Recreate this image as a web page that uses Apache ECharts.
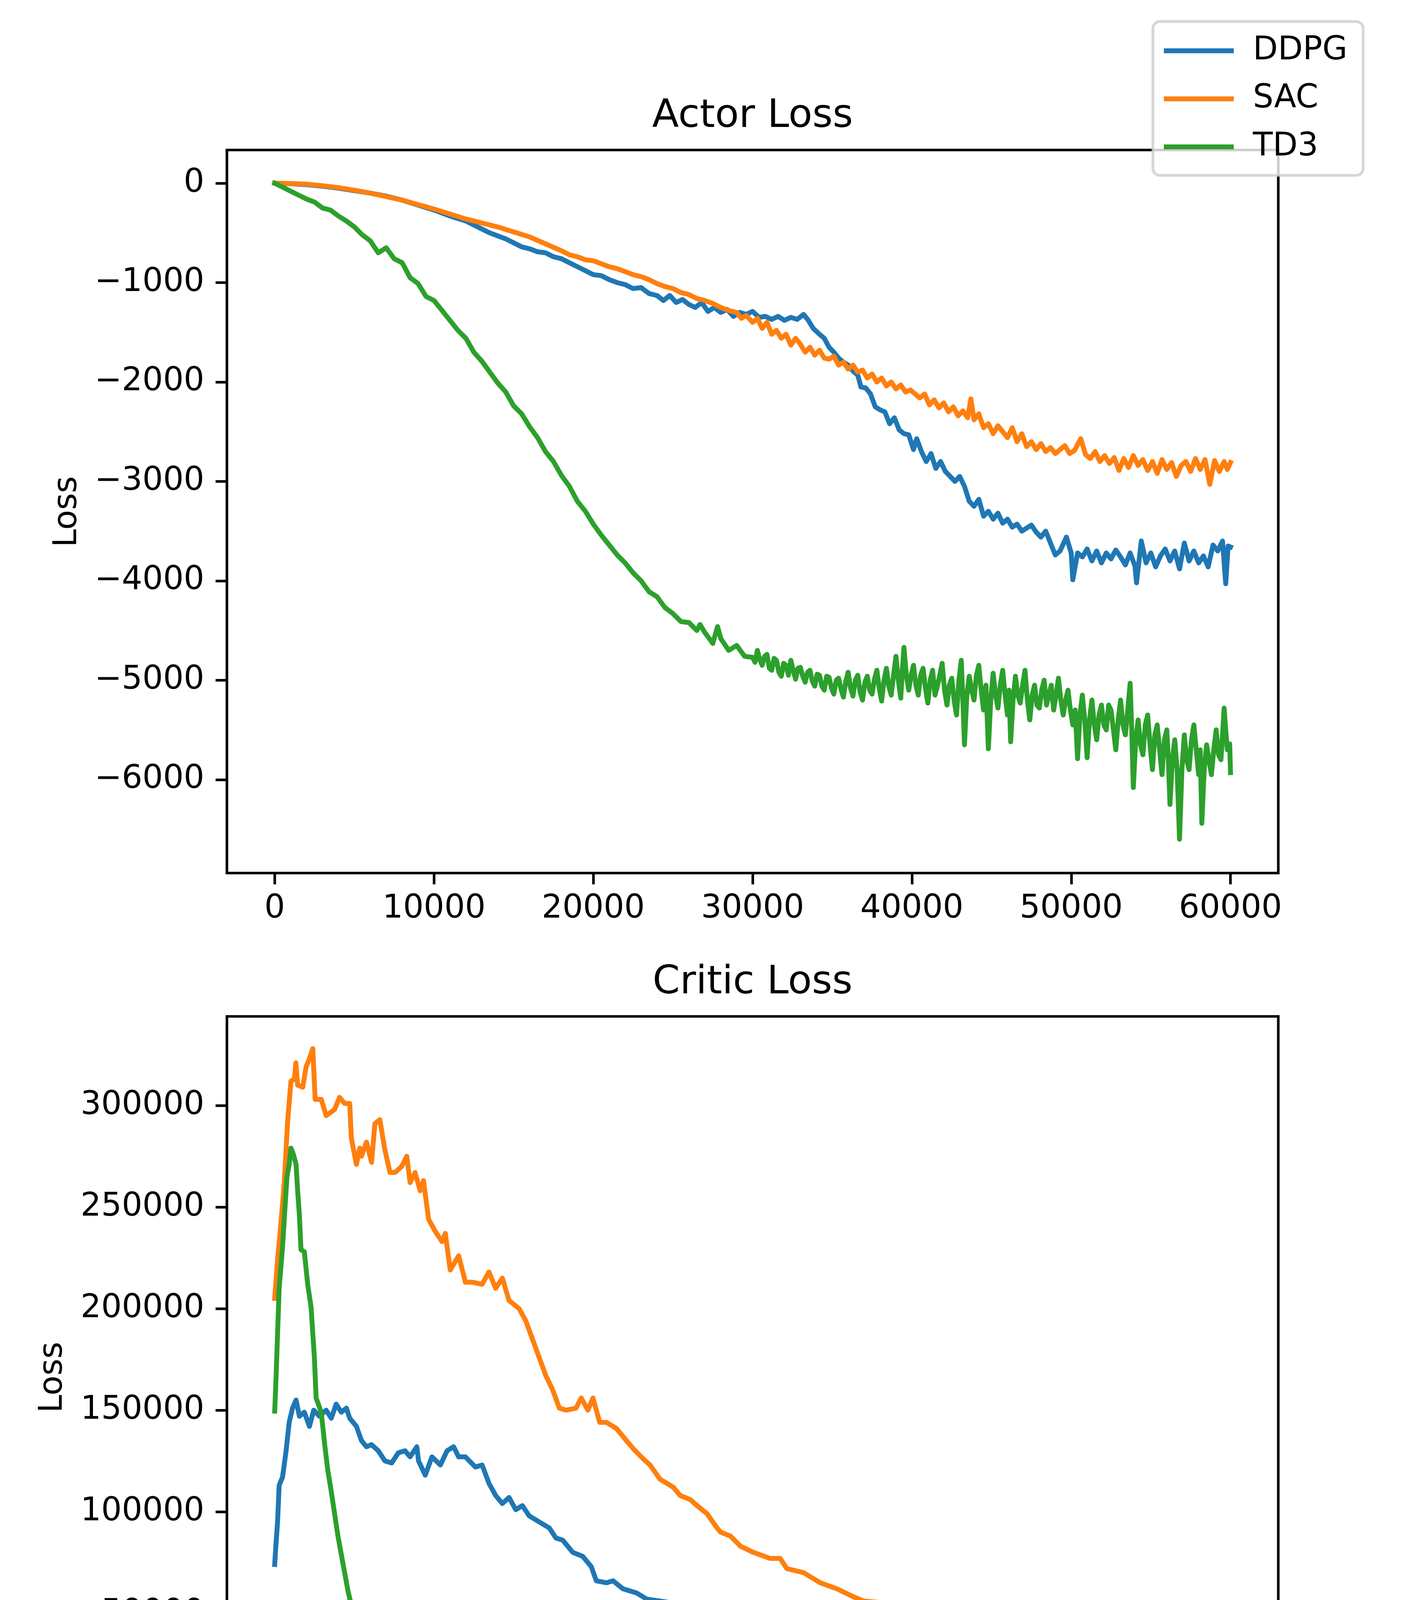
<!DOCTYPE html>
<html><head><meta charset="utf-8">
<script src="https://cdn.jsdelivr.net/npm/echarts@6/dist/echarts.min.js"></script>
<style>html,body{margin:0;padding:0;background:#fff;overflow:hidden}#c{width:3600px;height:4800px}</style>
</head><body><div id="c"></div>
<script>
// ---------------- data ----------------
const seriesNames = ['DDPG', 'SAC', 'TD3'];
const colors = ['#1f77b4', '#ff7f0e', '#2ca02c'];
const xTicks = [0, 10000, 20000, 30000, 40000, 50000, 60000];
const actorTicks = [-6000, -5000, -4000, -3000, -2000, -1000, 0];
const criticTicks = [0, 50000, 100000, 150000, 200000, 250000, 300000];

const ddpgActor = [[0,0],[1000,-5],[2000,-15],[3000,-30],[4000,-50],[5000,-75],[6000,-100],[7000,-130],[8000,-170],[9000,-220],[10000,-270],[11000,-330],[12000,-380],[12500,-420],[13000,-460],[13500,-500],[14000,-530],[14500,-560],[15000,-600],[15500,-640],[16000,-660],[16500,-690],[17000,-700],[17500,-740],[18000,-760],[18500,-800],[19000,-840],[19500,-880],[20000,-920],[20500,-930],[21000,-970],[21500,-1000],[22000,-1020],[22500,-1060],[23000,-1050],[23500,-1110],[24000,-1130],[24400,-1180],[24800,-1130],[25200,-1200],[25600,-1170],[26000,-1220],[26400,-1250],[26800,-1200],[27200,-1290],[27600,-1250],[28000,-1300],[28400,-1270],[28800,-1340],[29200,-1300],[29600,-1320],[30000,-1290],[30400,-1350],[30800,-1340],[31200,-1370],[31600,-1340],[32000,-1380],[32400,-1350],[32800,-1370],[33200,-1320],[33500,-1380],[33800,-1460],[34200,-1520],[34500,-1560],[34800,-1650],[35100,-1700],[35400,-1760],[35700,-1800],[36000,-1830],[36300,-1890],[36600,-1930],[36800,-2050],[37100,-2060],[37400,-2120],[37700,-2250],[38000,-2280],[38300,-2300],[38600,-2420],[38900,-2360],[39200,-2480],[39500,-2520],[39800,-2530],[40100,-2680],[40300,-2570],[40600,-2700],[40900,-2800],[41200,-2720],[41500,-2870],[41800,-2800],[42100,-2900],[42400,-2950],[42700,-3000],[43000,-2950],[43300,-3050],[43600,-3200],[43900,-3250],[44200,-3180],[44500,-3350],[44800,-3300],[45100,-3380],[45400,-3320],[45700,-3420],[46000,-3380],[46300,-3460],[46600,-3430],[46900,-3500],[47200,-3470],[47500,-3440],[47800,-3510],[48100,-3560],[48400,-3500],[48700,-3620],[49000,-3740],[49300,-3700],[49700,-3560],[50000,-3720],[50100,-3990],[50400,-3720],[50700,-3760],[51000,-3680],[51300,-3800],[51600,-3700],[51900,-3820],[52200,-3720],[52500,-3780],[52800,-3690],[53100,-3760],[53400,-3840],[53700,-3720],[54000,-3850],[54100,-4020],[54400,-3600],[54700,-3820],[55000,-3720],[55300,-3860],[55600,-3750],[55900,-3680],[56200,-3800],[56500,-3700],[56800,-3880],[57100,-3620],[57400,-3800],[57700,-3700],[58000,-3820],[58300,-3750],[58600,-3860],[58900,-3640],[59200,-3700],[59500,-3600],[59700,-4030],[59850,-3650],[60000,-3660]];

const sacActor = [[0,0],[1000,-3],[2000,-10],[3000,-25],[4000,-45],[5000,-70],[6000,-100],[7000,-135],[8000,-170],[9000,-215],[10000,-260],[11000,-310],[12000,-360],[13000,-400],[14000,-440],[15000,-490],[16000,-540],[17000,-610],[18000,-680],[18500,-720],[19000,-740],[19500,-770],[20000,-780],[20500,-810],[21000,-840],[21500,-860],[22000,-890],[22500,-920],[23000,-940],[23500,-970],[24000,-1010],[24500,-1040],[25000,-1060],[25500,-1100],[26000,-1120],[26500,-1160],[27000,-1180],[27500,-1210],[28000,-1250],[28500,-1280],[29000,-1300],[29300,-1360],[29600,-1330],[30000,-1400],[30300,-1360],[30600,-1460],[30900,-1400],[31200,-1520],[31500,-1480],[31800,-1560],[32100,-1520],[32400,-1630],[32700,-1560],[33000,-1620],[33300,-1700],[33600,-1650],[33900,-1730],[34200,-1680],[34500,-1760],[34800,-1770],[35100,-1740],[35400,-1830],[35700,-1800],[36000,-1870],[36300,-1830],[36600,-1900],[36900,-1880],[37200,-1960],[37500,-1920],[37800,-2000],[38100,-1960],[38400,-2040],[38700,-2000],[39000,-2070],[39300,-2030],[39600,-2100],[39900,-2080],[40200,-2120],[40500,-2160],[40800,-2120],[41100,-2230],[41400,-2180],[41700,-2260],[42000,-2210],[42300,-2300],[42600,-2250],[42900,-2340],[43200,-2290],[43500,-2360],[43700,-2170],[43900,-2380],[44200,-2320],[44500,-2460],[44800,-2420],[45100,-2520],[45400,-2440],[45700,-2500],[46000,-2560],[46300,-2460],[46600,-2600],[46900,-2520],[47200,-2650],[47500,-2600],[47800,-2680],[48100,-2620],[48400,-2700],[48700,-2660],[49000,-2720],[49300,-2680],[49600,-2640],[49900,-2720],[50200,-2690],[50600,-2570],[50900,-2730],[51200,-2770],[51500,-2700],[51800,-2800],[52100,-2740],[52400,-2820],[52700,-2760],[53000,-2890],[53300,-2770],[53600,-2860],[53900,-2740],[54200,-2840],[54500,-2780],[54800,-2890],[55100,-2800],[55400,-2920],[55700,-2780],[56000,-2880],[56300,-2810],[56600,-2950],[56900,-2840],[57200,-2800],[57500,-2900],[57800,-2770],[58100,-2880],[58400,-2780],[58700,-3030],[59000,-2790],[59300,-2900],[59600,-2800],[59800,-2880],[60000,-2810]];

const td3Actor = [[0,0],[500,-40],[1000,-80],[1500,-120],[2000,-160],[2500,-190],[3000,-250],[3500,-270],[4000,-330],[4500,-380],[5000,-440],[5500,-520],[6000,-580],[6500,-700],[7000,-650],[7500,-760],[8000,-800],[8500,-950],[9000,-1010],[9500,-1140],[10000,-1180],[10500,-1280],[11000,-1380],[11500,-1480],[12000,-1560],[12500,-1700],[13000,-1790],[13500,-1900],[14000,-2010],[14500,-2100],[15000,-2240],[15500,-2320],[16000,-2450],[16500,-2560],[17000,-2700],[17500,-2800],[18000,-2940],[18500,-3050],[19000,-3200],[19500,-3300],[20000,-3430],[20500,-3540],[21000,-3640],[21500,-3740],[22000,-3820],[22500,-3920],[23000,-4000],[23500,-4110],[24000,-4160],[24500,-4270],[25000,-4330],[25500,-4410],[26000,-4420],[26500,-4500],[26700,-4440],[27000,-4520],[27500,-4630],[27800,-4460],[28000,-4580],[28500,-4700],[29000,-4650],[29500,-4760],
[30000,-4770],[30150,-4820],[30300,-4700],[30450,-4790],[30600,-4850],[30750,-4760],[30900,-4740],[31050,-4880],[31200,-4900],[31350,-4780],[31500,-4800],[31650,-4920],[31800,-4960],[31950,-4830],[32100,-4850],[32250,-4950],[32400,-4800],[32550,-4900],[32700,-4990],[32850,-4880],[33000,-4870],[33150,-4960],[33300,-5020],[33450,-4920],[33600,-4900],[33750,-5010],[33900,-5060],[34050,-4940],[34200,-4950],[34350,-5060],[34500,-5100],[34650,-4960],[34800,-4970],[34950,-5080],[35100,-5140],[35250,-5000],[35400,-4980],[35550,-5090],[35700,-5170],[35850,-5010],[36000,-4920],[36150,-5080],[36300,-5160],[36450,-5000],[36600,-4950],[36750,-5120],[36900,-5200],[37050,-5020],[37200,-4960],[37350,-5100],[37500,-5140],[37650,-4990],[37800,-4900],[37950,-5080],[38100,-5210],[38250,-5000],[38400,-4880],[38550,-5060],[38700,-5150],[38850,-4950],[39000,-4760],[39150,-5000],[39300,-5180],[39400,-4900],[39500,-4670],[39650,-4950],[39800,-5100],[39950,-4950],[40100,-4850],[40250,-5050],[40400,-5150],[40550,-4950],[40700,-4880],[40850,-5080],[41000,-5230],[41150,-5000],[41300,-4900],[41450,-5150],[41600,-5060],[41750,-4950],[41900,-4830],[42050,-5100],[42200,-5250],[42350,-5050],[42500,-4980],[42650,-5200],[42800,-5350],[42950,-5000],[43100,-4800],[43200,-5200],[43300,-5650],[43450,-5150],[43600,-4960],[43750,-5100],[43900,-5200],[44050,-4950],[44200,-4850],[44350,-5100],[44500,-5300],[44650,-5050],[44800,-5690],[44950,-5200],[45100,-4930],[45250,-5150],[45400,-5280],[45550,-5050],[45700,-4900],[45850,-5150],[46000,-5350],[46100,-5100],[46200,-5620],[46350,-5200],[46500,-4960],[46650,-5150],[46800,-5230],[46950,-5050],[47100,-4900],[47250,-5200],[47400,-5400],[47550,-5150],[47700,-5050],[47850,-5250],[48000,-5280],[48150,-5100],[48300,-5000],[48450,-5250],[48600,-5150],[48750,-5050],[48900,-5300],[49050,-5150],[49200,-4980],[49350,-5200],[49500,-5350],[49650,-5200],[49800,-5100],[49950,-5300],[50100,-5450],[50250,-5300],[50400,-5790],[50550,-5350],[50700,-5150],[50850,-5400],[51000,-5780],[51150,-5400],[51300,-5200],[51450,-5450],[51600,-5600],[51750,-5350],[51900,-5250],[52050,-5450],[52200,-5500],[52350,-5250],[52500,-5300],[52650,-5500],[52800,-5700],[52950,-5400],[53100,-5200],[53250,-5450],[53400,-5550],[53550,-5300],[53700,-5030],[53800,-5500],[53900,-6080],[54050,-5600],[54200,-5400],[54350,-5650],[54500,-5750],[54650,-5450],[54800,-5350],[54950,-5650],[55100,-5900],[55250,-5550],[55400,-5450],[55550,-5700],[55700,-5950],[55850,-5600],[56000,-5500],[56100,-5800],[56200,-6250],[56350,-5800],[56500,-5600],[56650,-5900],[56800,-6600],[56950,-5900],[57100,-5550],[57250,-5800],[57400,-5900],[57550,-5600],[57700,-5450],[57850,-5700],[58000,-5950],[58100,-5700],[58200,-6440],[58350,-5900],[58500,-5650],[58650,-5800],[58800,-5950],[58950,-5700],[59100,-5500],[59250,-5750],[59400,-5800],[59500,-5550],[59600,-5280],[59700,-5500],[59800,-5700],[59950,-5640],[60000,-5930]];

const ddpgCritic = [[0,74000],[70,83000],[180,95000],[280,113000],[490,117000],[700,129000],[910,144000],[1120,151000],[1340,155000],[1550,147000],[1860,149000],[2180,142000],[2450,150000],[2810,147000],[3230,150000],[3550,146000],[3860,153000],[4180,149000],[4500,151000],[4710,146000],[5130,142000],[5450,135000],[5760,132000],[6080,133000],[6500,130000],[6920,125000],[7340,124000],[7760,129000],[8180,130000],[8500,127000],[8920,132000],[9030,125000],[9450,118000],[9870,127000],[10400,123000],[10820,130000],[11230,132000],[11550,127000],[11970,127000],[12600,122000],[13020,123000],[13450,114000],[13870,108000],[14290,104000],[14710,107000],[15130,101000],[15550,103000],[15970,98000],[16600,95000],[17240,92000],[17660,87000],[18080,86000],[18710,80000],[19340,78000],[19870,73000],[20190,66000],[20820,65000],[21240,66000],[21870,62000],[22720,60000],[23350,57000],[24190,56000],[25030,55000],[25660,53000],[26510,52000],[27140,50000],[27980,49000],[29030,48000],[30040,47000],[31100,45000],[32150,44000],[33200,43000],[33830,39000],[34460,35000],[35310,30000],[36360,25600],[37410,24000],[38880,24000],[40150,25600],[41630,28000],[43110,31000],[44370,36000],[46060,39000],[47540,41000],[48380,44000],[50060,45000],[51110,47000],[52370,47000],[53430,48000],[54260,45000],[55530,45000],[56580,44000],[57420,44000],[58270,41000],[58800,38000],[59220,31000],[59740,22000],[60000,19000]];

const sacCritic = [[0,205000],[180,224000],[390,242000],[600,262000],[810,292000],[1020,312000],[1230,313000],[1330,321000],[1440,310000],[1760,309000],[1970,319000],[2180,323000],[2390,328000],[2540,303000],[2920,303000],[3230,295000],[3760,298000],[4070,304000],[4390,301000],[4710,301000],[4810,284000],[5130,271000],[5340,279000],[5450,275000],[5760,282000],[6080,272000],[6290,291000],[6600,293000],[6920,278000],[7240,267000],[7550,267000],[7970,270000],[8290,275000],[8500,262000],[8810,267000],[9130,258000],[9340,263000],[9660,244000],[10080,238000],[10500,233000],[10710,237000],[11020,219000],[11550,226000],[11970,213000],[12390,213000],[13020,212000],[13450,218000],[13870,210000],[14290,215000],[14710,204000],[15340,200000],[15760,194000],[16180,185000],[16600,176000],[17020,167000],[17450,160000],[17870,151000],[18290,150000],[18920,151000],[19240,156000],[19660,150000],[19980,156000],[20400,144000],[20820,144000],[21450,141000],[22080,135000],[22510,131000],[23140,126000],[23560,123000],[24190,116000],[24610,114000],[25030,112000],[25450,108000],[26080,106000],[26510,103000],[27140,99000],[27770,92000],[27980,90000],[28610,88000],[29240,83000],[30040,80000],[31100,77000],[31730,77000],[32150,72000],[33200,70000],[34250,65000],[35310,62000],[36360,58000],[36990,56000],[38470,55000],[39520,55000],[40570,54000],[41630,53500],[42680,53000],[43740,52000],[44790,49000],[46260,49000],[47950,52000],[50060,52000],[52160,52000],[54260,51000],[56370,50500],[58690,50000],[59000,44000],[59510,37000],[59840,28000],[60000,25600]];

const td3Critic = [[0,149500],[70,163000],[280,210000],[490,230000],[640,249000],[770,265000],[910,271000],[1020,279000],[1170,276000],[1340,271000],[1440,258000],[1550,246000],[1650,229000],[1860,228000],[2070,212000],[2280,201000],[2490,176000],[2600,156000],[2920,149000],[3140,133000],[3340,120000],[3550,110000],[3760,99000],[3970,88000],[4180,79000],[4390,70000],[4600,61000],[4810,54000],[5130,43000],[5450,38000],[5870,30000],[6290,24500],[6710,21000],[7130,19000],[7550,17700],[8600,17700],[9660,20000],[10710,23000],[11340,25600],[12180,27000],[13450,28000],[14710,28000],[15970,27000],[17240,27000],[18500,26000],[19770,24500],[20610,21700],[22300,19000],[23560,16500],[24820,14300],[26510,13600],[28610,13000],[30040,13600],[34250,13000],[36360,12000],[38470,11500],[40570,10900],[44790,10400],[49000,10200],[51110,9700],[53210,8600],[56370,8200],[58690,9000],[59510,6300],[60000,4800]];

const actorData = [ddpgActor, sacActor, td3Actor];
const criticData = [ddpgCritic, sacCritic, td3Critic];

// ---------------- chart ----------------
const FONT = 'DejaVu Sans';
const LW = 6.67;
const fmt = v => (v < 0 ? '\u2212' : '') + Math.abs(v);

function xAxisDef(gi) {
  return {
    type: 'value', gridIndex: gi, min: -3000, max: 63000, position: 'bottom',
    axisLine: { show: false, onZero: false },
    splitLine: { show: false },
    axisTick: { show: true, inside: false, length: 29, customValues: xTicks, lineStyle: { color: '#000', width: LW } },
    axisLabel: { show: true, customValues: xTicks, margin: 51, fontSize: 83, color: '#000', fontFamily: FONT, formatter: fmt }
  };
}
function yAxisDef(gi, min, max, ticks) {
  return {
    type: 'value', gridIndex: gi, min: min, max: max, position: 'left',
    axisLine: { show: false, onZero: false },
    splitLine: { show: false },
    axisTick: { show: true, inside: false, length: 29, customValues: ticks, lineStyle: { color: '#000', width: LW } },
    axisLabel: { show: true, customValues: ticks, margin: 58, fontSize: 83, color: '#000', fontFamily: FONT, formatter: fmt }
  };
}

const series = [];
[actorData, criticData].forEach((group, gi) => {
  group.forEach((d, i) => {
    series.push({
      name: seriesNames[i], type: 'line', xAxisIndex: gi, yAxisIndex: gi,
      data: d, showSymbol: false, symbol: 'none', smooth: false,
      lineStyle: { color: colors[i], width: 12.5, join: 'round', cap: 'square' },
      itemStyle: { color: colors[i] },
      emphasis: { disabled: true }, silent: true
    });
  });
});

function txt(text, x, y, size, rot) {
  return { type: 'text', x: x, y: y, rotation: rot || 0, z: 10,
    style: { text: text, fill: '#000', font: size + 'px "' + FONT + '"', textAlign: 'center', textVerticalAlign: 'middle' } };
}

const option = {
  animation: false,
  backgroundColor: '#fff',
  textStyle: { fontFamily: FONT },
  grid: [
    { left: 581, top: 384, width: 2692, height: 1851, show: true, borderColor: '#000', borderWidth: LW, backgroundColor: 'transparent', containLabel: false },
    { left: 581, top: 2602, width: 2692, height: 1847, show: true, borderColor: '#000', borderWidth: LW, backgroundColor: 'transparent', containLabel: false }
  ],
  xAxis: [xAxisDef(0), xAxisDef(1)],
  yAxis: [yAxisDef(0, -6940, 334, actorTicks), yAxisDef(1, -11350, 343850, criticTicks)],
  legend: {
    show: true, orient: 'vertical', left: 2952, top: 55,
    data: seriesNames,
    icon: 'rect', itemWidth: 179, itemHeight: 12.5, itemGap: 23,
    padding: [25, 40, 23, 28],
    backgroundColor: 'rgba(255,255,255,0.8)',
    borderColor: 'rgba(204,204,204,0.8)', borderWidth: 7, borderRadius: 18,
    textStyle: { fontSize: 83, color: '#000', fontFamily: FONT, lineHeight: 100, padding: [0, 0, 0, 44] },
    selectedMode: false, z: 20
  },
  graphic: [
    txt('Actor Loss', 1927, 334 - 35, 100),
    txt('Critic Loss', 1927, 2552 - 35, 100),
    txt('Steps', 1927, 4685 - 29, 83),
    txt('Loss', 173, 1310, 83, Math.PI / 2),
    txt('Loss', 136, 3526, 83, Math.PI / 2)
  ],
  series: series
};

const chart = echarts.init(document.getElementById('c'), null, { renderer: 'canvas', width: 3600, height: 4800, devicePixelRatio: 1 });
chart.setOption(option);
</script>
</body></html>
